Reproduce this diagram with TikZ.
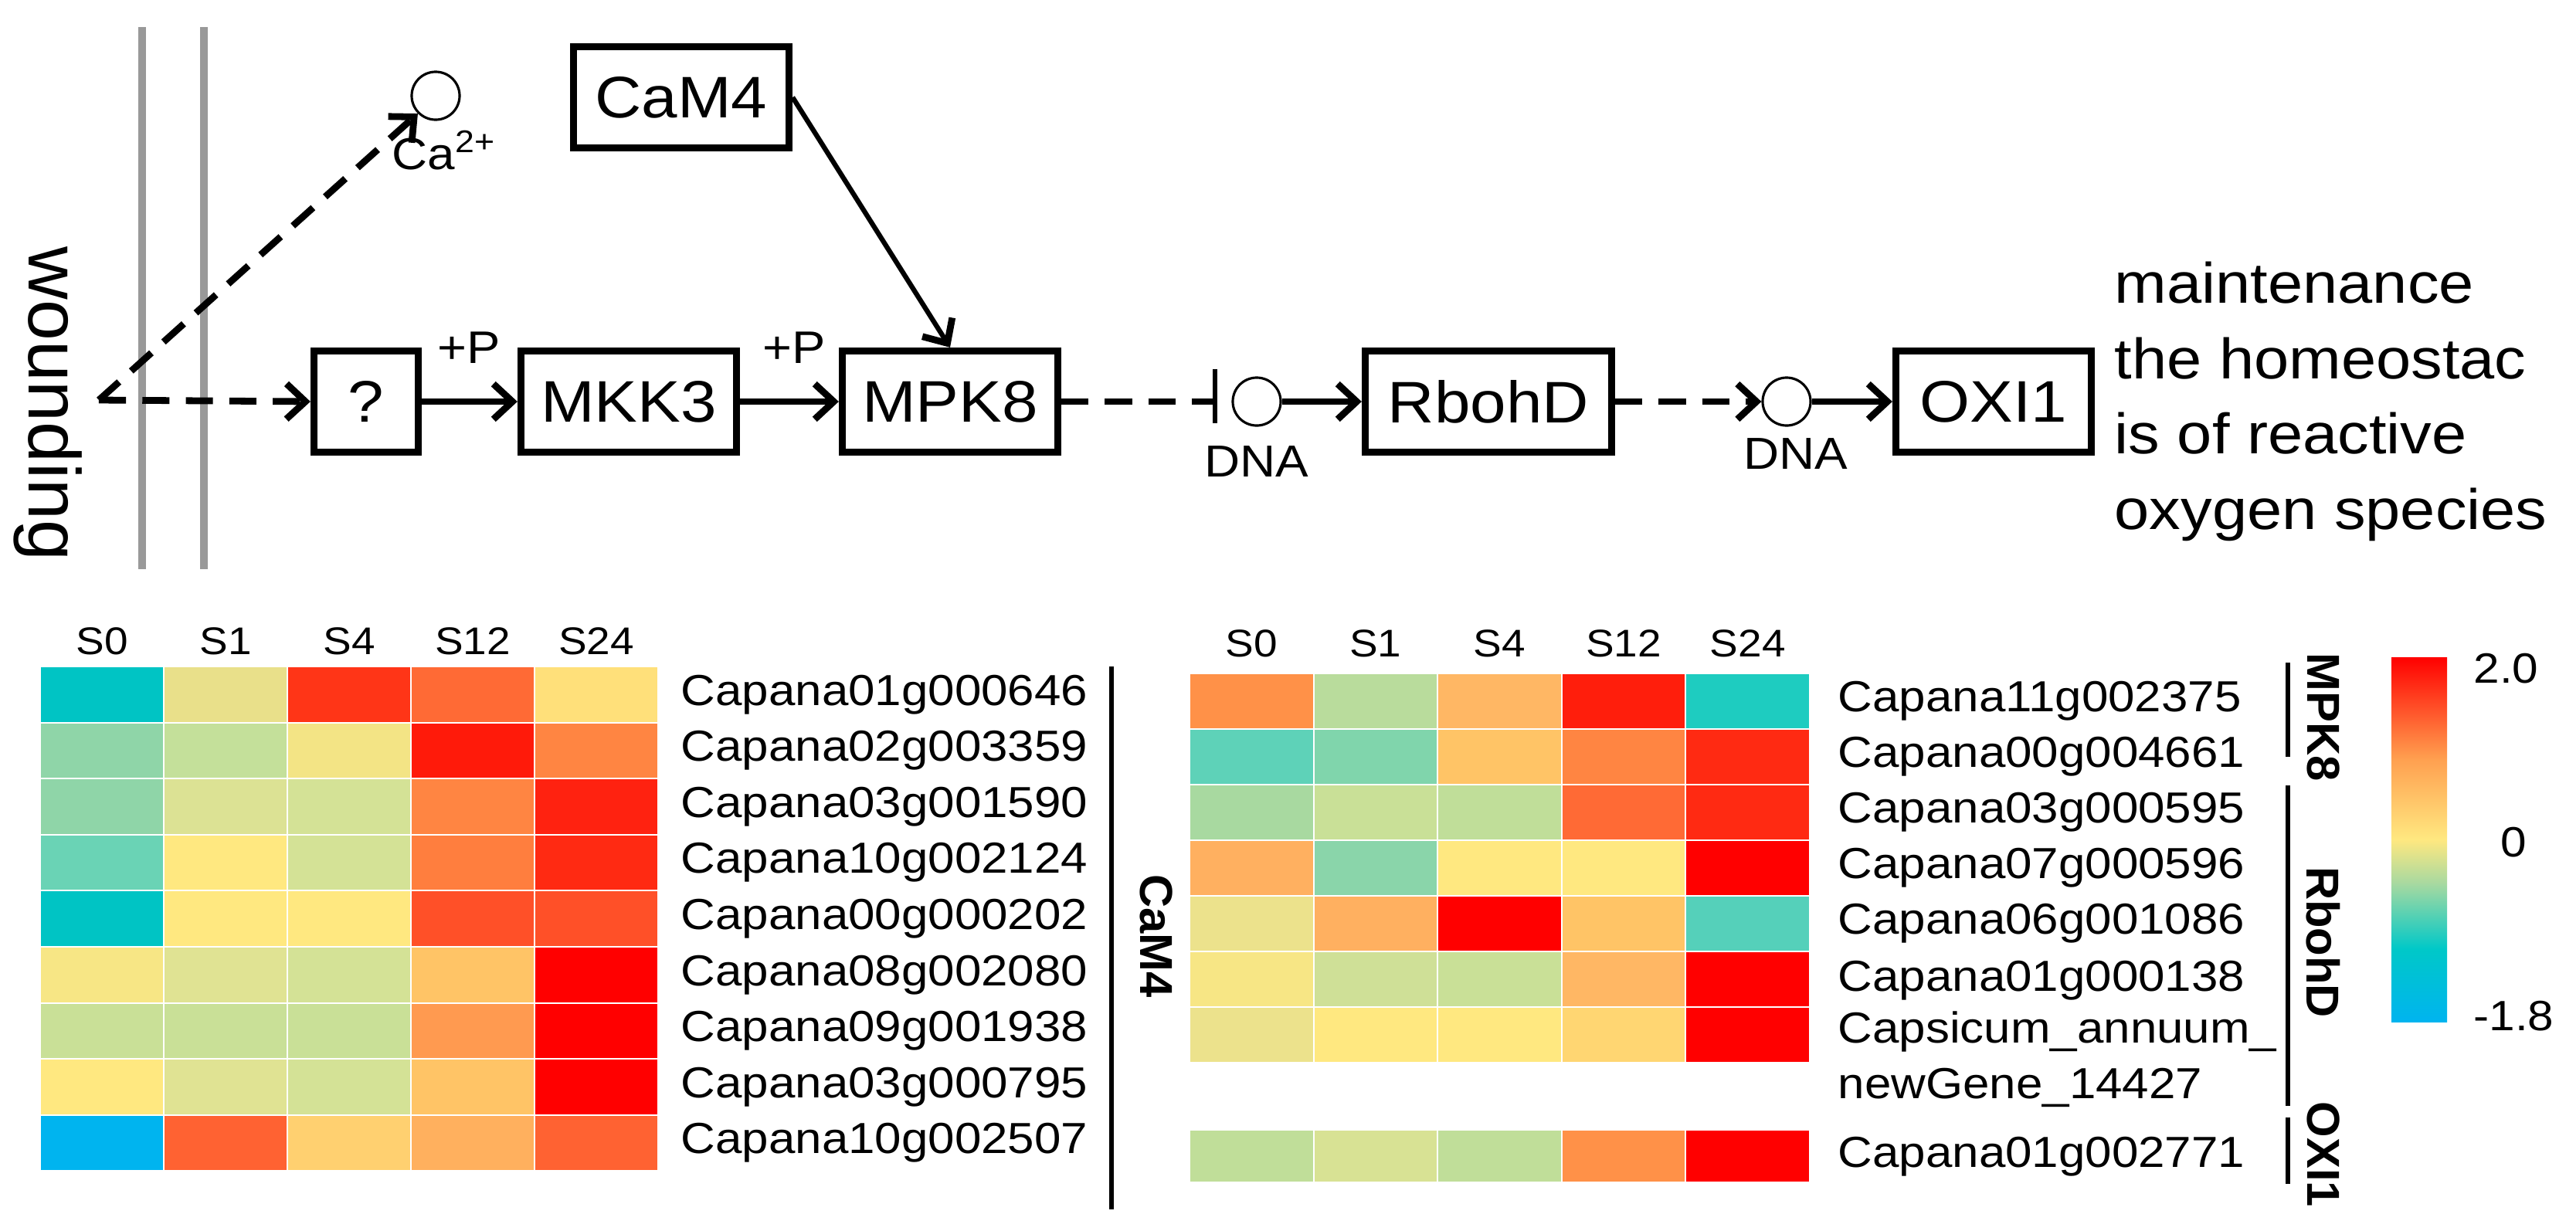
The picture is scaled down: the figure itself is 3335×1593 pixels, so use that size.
\documentclass[tikz,border=0pt]{standalone}
\usepackage{fontspec}
\setmainfont{Liberation Sans}
\usetikzlibrary{arrows.meta}
\newcommand\hs[1]{\scalebox{1.1}[1]{#1}}
\definecolor{cb1}{HTML}{00B4EF}
\definecolor{cb2}{HTML}{00C8C8}
\definecolor{cb3}{HTML}{A8D9A0}
\definecolor{cb4}{HTML}{FFE880}
\definecolor{cb5}{HTML}{FFA050}
\definecolor{cb6}{HTML}{FF0000}
\pgfdeclareverticalshading{cbar}{100bp}{color(0bp)=(cb1); color(25bp)=(cb1); color(35bp)=(cb2); color(44bp)=(cb3); color(50bp)=(cb4); color(61bp)=(cb5); color(75bp)=(cb6); color(100bp)=(cb6)}
\begin{document}
\begin{tikzpicture}[x=0.01cm,y=-0.01cm,
  box/.style={draw,line width=2.6pt,minimum height=1.31cm,inner sep=0pt,font=\fontsize{21.6}{24}\selectfont},
  circ/.style={draw,line width=0.9pt,circle,minimum size=0.62cm,inner sep=0pt},
  arr/.style={line width=2.5pt,-{Straight Barb[length=7pt,width=13pt,line width=2.5pt]}},
  darr/.style={arr,dash pattern=on 10pt off 6pt},
  lab/.style={font=\fontsize{16.5}{18}\selectfont},
  gene/.style={anchor=west,font=\fontsize{16}{18}\selectfont,inner sep=0pt},
  hdr/.style={font=\fontsize{14.2}{16}\selectfont},
  grp/.style={font=\bfseries\fontsize{17}{19}\selectfont,rotate=-90}]
\useasboundingbox (0,0) rectangle (3335,1593);
% membrane
\draw[gray!80,line width=2.8pt] (184,35) -- (184,737);
\draw[gray!80,line width=2.8pt] (264,35) -- (264,737);
\node[rotate=-90,font=\fontsize{27}{30}\selectfont] (wound) at (62,523) {wounding};
\coordinate (W) at (128,518);
% nodes
\node[box,minimum width=1.35cm] (q) at (474,520) {\hs{?}};
\node[box,minimum width=2.79cm] (mkk3) at (814,520) {\hs{MKK3}};
\node[box,minimum width=2.79cm] (mpk8) at (1230,520) {\hs{MPK8}};
\node[box,minimum width=2.79cm] (cam4) at (882,126) {\hs{CaM4}};
\node[box,minimum width=3.19cm] (rbohd) at (1927,520) {\hs{RbohD}};
\node[box,minimum width=2.53cm] (oxi1) at (2581,520) {\hs{OXI1}};
\node[circ] (ca) at (564,124) {};
\node[lab] (calab) at (575,195) {\hs{Ca\textsuperscript{2+}}};
\node[circ] (d1) at (1627,520) {};
\node[circ] (d2) at (2313,520) {};
\node[lab] (dna1) at (1627,598) {\hs{DNA}};
\node[lab] (dna2) at (2325,588) {\hs{DNA}};
\node[font=\fontsize{16.8}{18}\selectfont] (p1) at (607,450) {\hs{+P}};
\node[font=\fontsize{16.8}{18}\selectfont] (p2) at (1028,450) {\hs{+P}};
\node[anchor=west,align=left,inner sep=0pt,font=\fontsize{21}{27.8}\selectfont] (txt) at (2737,520)
  {\hs{maintenance}\\\hs{the homeostac}\\\hs{is of reactive}\\\hs{oxygen species}};
% connectors
\draw[darr] (W) -- (q.west);
\draw[darr] (W) -- (ca.south west);
\draw[arr] (q) -- (mkk3);
\draw[arr] (mkk3) -- (mpk8);
\draw[arr,line width=1.8pt] (cam4.east) -- (mpk8.north);
\coordinate (bar) at (1573,520);
\draw[line width=2.5pt,dash pattern=on 10pt off 6pt] (mpk8.east) -- (bar);
\draw[line width=1.5pt] (1573,478) -- (1573,548);
\draw[arr] (d1) -- (rbohd);
\draw[darr] (rbohd) -- (d2);
\draw[arr] (d2) -- (oxi1);
% left heatmap
\foreach \s [count=\i] in {S0,S1,S4,S12,S24}
  \node[hdr] (lh\i) at ({52+160*(\i-0.5)},830) {\hs{\s}};
\foreach \row [count=\r] in {
 {00C4C4,E9E08A,FF3517,FF6A35,FFE07A},
 {8FD5A8,C4E09A,F3E485,FF1A0A,FF8542},
 {8FD5A8,DCE294,D4E296,FF8542,FF2210},
 {6AD3B5,FFE880,D4E296,FF7E3E,FF2A12},
 {00C4C4,FFE880,FFE880,FF5028,FF5028},
 {F7E685,E0E393,D4E296,FFC466,FF0000},
 {C9E097,C9E097,C9E097,FF9A50,FF0000},
 {FFE880,E0E393,D4E296,FFC466,FF0000},
 {00B4EF,FF6232,FFD070,FFB05E,FF6232}} {
  \foreach \c [count=\k] in \row {
    \definecolor{tmp}{HTML}{\c}
    \filldraw[fill=tmp,draw=white,line width=0.6pt] ({52+160*(\k-1)},{863+72.6*(\r-1)}) rectangle ++(160,72.6);
  }
}
\foreach \g [count=\r] in {Capana01g000646,Capana02g003359,Capana03g001590,Capana10g002124,Capana00g000202,Capana08g002080,Capana09g001938,Capana03g000795,Capana10g002507}
  \node[gene] (lg\r) at (881,{863+72.6*(\r-0.5)}) {\hs{\g}};
\draw[line width=1.5pt] (1439,863) -- (1439,1566);
\node[grp] (lcam) at (1497,1212) {CaM4};
% right heatmap
\foreach \s [count=\i] in {S0,S1,S4,S12,S24}
  \node[hdr] (rh\i) at ({1540+160.6*(\i-0.5)},833) {\hs{\s}};
\foreach \row [count=\r] in {
 {FF9148,B9DC9C,FFB764,FF1E0C,1ECCC0},
 {5ED2B8,80D5AC,FFC466,FF8542,FF2A12},
 {A8D9A0,C9E097,C0DE99,FF6A35,FF2A12},
 {FFB060,8AD5AA,FFE880,FFE880,FF0000},
 {ECE28C,FFB060,FF0000,FFC466,55D0BA},
 {F7E685,CFE097,C9E097,FFB764,FF0000},
 {ECE28C,FFE880,FFE880,FFD672,FF0000}} {
  \foreach \c [count=\k] in \row {
    \definecolor{tmp}{HTML}{\c}
    \filldraw[fill=tmp,draw=white,line width=0.6pt] ({1540+160.6*(\k-1)},{872+72*(\r-1)}) rectangle ++(160.6,72);
  }
}
\foreach \c [count=\k] in {C0DE99,D8E294,C0DE99,FF9148,FF0000} {
  \definecolor{tmp}{HTML}{\c}
  \filldraw[fill=tmp,draw=white,line width=0.6pt] ({1540+160.6*(\k-1)},1463) rectangle ++(160.6,68);
}
\foreach \g/\y [count=\r] in {Capana11g002375/908,Capana00g004661/980,Capana03g000595/1052,Capana07g000596/1124,Capana06g001086/1196,Capana01g000138/1270,Capsicum\_annuum\_/1336,newGene\_14427/1408,Capana01g002771/1498}
  \node[gene] (rg\r) at (2379,\y) {\hs{\g}};
\draw[line width=1.5pt] (2962,858) -- (2962,980);
\draw[line width=1.5pt] (2962,1017) -- (2962,1432);
\draw[line width=1.5pt] (2962,1447) -- (2962,1533);
\node[grp] (gmpk) at (3008,929) {MPK8};
\node[grp] (grb) at (3008,1220) {RbohD};
\node[grp] (gox) at (3008,1495) {OXI1};
% colour bar
\shade[shading=cbar] (3096,851) rectangle (3168,1323);
\node[anchor=west,font=\fontsize{15.6}{17}\selectfont] (c1) at (3190,866) {\hs{2.0}};
\node[anchor=west,font=\fontsize{15.6}{17}\selectfont] (c2) at (3225,1091) {\hs{0}};
\node[anchor=west,font=\fontsize{15.6}{17}\selectfont] (c3) at (3190,1316) {\hs{-1.8}};
\end{tikzpicture}
\end{document}
